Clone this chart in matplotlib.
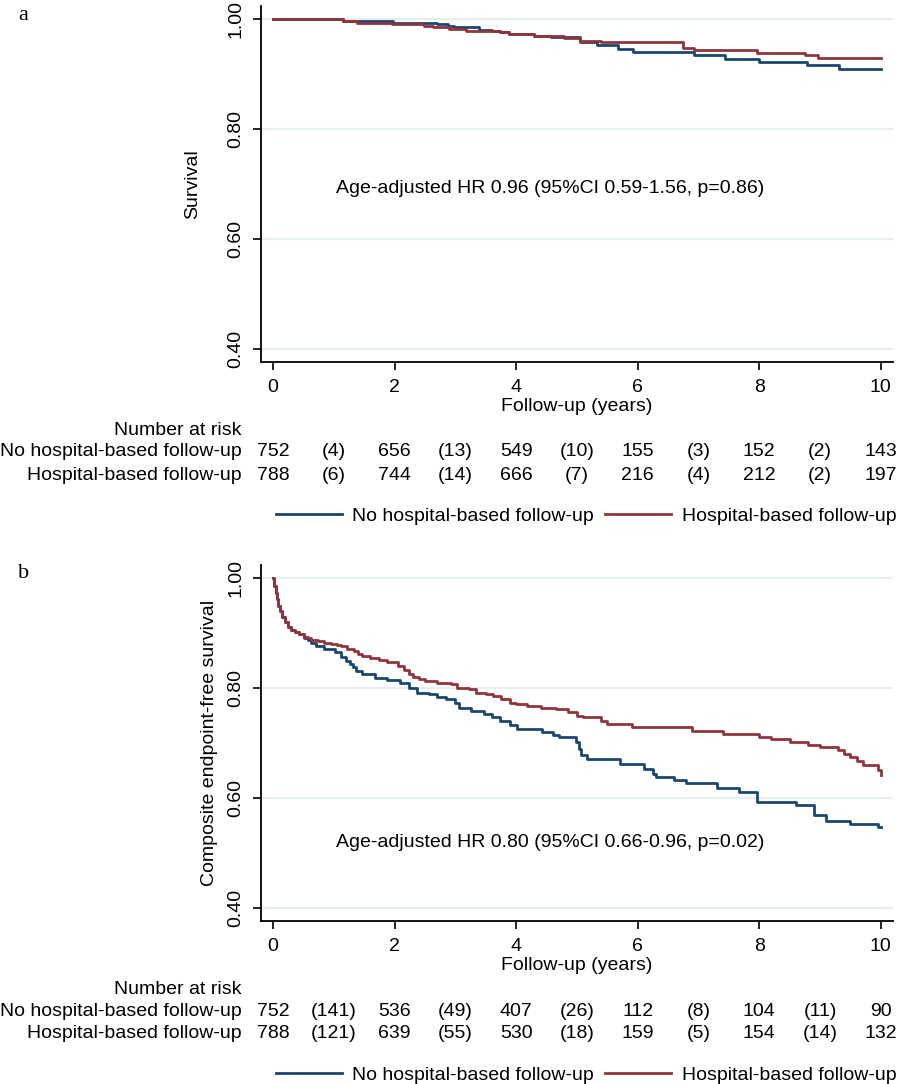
import matplotlib
matplotlib.use('Agg')
import matplotlib.pyplot as plt
from matplotlib.transforms import blended_transform_factory
from matplotlib.lines import Line2D

plt.rcParams['font.family'] = ['Liberation Sans', 'DejaVu Sans']

W, H = 904, 1084
BLUE = '#1a476f'
RED = '#90353b'
GRID = '#e6eef0'

# panel a: overall survival (step points)
a_no_t = [0, 1.15, 1.97, 2.49, 2.70, 2.87, 2.98, 3.39, 3.60, 3.74, 3.88, 4.29, 4.57,
          5.05, 5.33, 5.67, 5.92, 6.92, 7.44, 7.99, 8.79, 9.31, 10.0]
a_no_s = [1.000, 0.997, 0.994, 0.993, 0.991, 0.987, 0.985, 0.981, 0.979, 0.976, 0.973, 0.970, 0.967,
          0.959, 0.953, 0.945, 0.941, 0.935, 0.927, 0.922, 0.916, 0.909, 0.909]
a_hosp_t = [0, 1.15, 1.38, 1.95, 2.49, 2.63, 2.90, 3.18, 3.74, 3.88, 4.29, 4.78, 5.05,
            5.40, 6.75, 6.92, 7.96, 8.75, 8.96, 10.0]
a_hosp_s = [1.000, 0.997, 0.994, 0.991, 0.988, 0.985, 0.982, 0.979, 0.976, 0.973, 0.970, 0.965, 0.961,
            0.958, 0.948, 0.944, 0.939, 0.935, 0.930, 0.930]

# panel b: composite endpoint-free survival
b_no_t = [0, 0.02, 0.04, 0.06, 0.08, 0.11, 0.15, 0.20, 0.25, 0.30, 0.36, 0.43, 0.50, 0.57,
          0.63, 0.70, 0.84, 1.01, 1.12, 1.20, 1.26, 1.31, 1.36, 1.46, 1.67, 1.88, 2.09,
          2.23, 2.37, 2.57, 2.70, 2.85, 2.99, 3.06, 3.25, 3.47, 3.60, 3.74, 3.90, 4.02,
          4.43, 4.60, 4.70, 4.98, 5.03, 5.07, 5.17, 5.70, 6.10, 6.25, 6.30, 6.60, 6.80,
          7.30, 7.66, 7.96, 8.60, 8.90, 9.10, 9.50, 9.96, 10.0]
b_no_s = [1.000, 0.985, 0.974, 0.962, 0.950, 0.940, 0.929, 0.920, 0.911, 0.906, 0.902, 0.898, 0.892, 0.887,
          0.882, 0.876, 0.871, 0.865, 0.856, 0.850, 0.844, 0.838, 0.832, 0.825, 0.819, 0.815, 0.810,
          0.801, 0.792, 0.789, 0.784, 0.780, 0.773, 0.765, 0.759, 0.753, 0.747, 0.741, 0.733, 0.726,
          0.720, 0.715, 0.711, 0.702, 0.690, 0.678, 0.672, 0.663, 0.654, 0.645, 0.639, 0.633, 0.627,
          0.618, 0.612, 0.593, 0.587, 0.570, 0.558, 0.553, 0.547, 0.547]
b_hosp_t = [0, 0.02, 0.04, 0.06, 0.08, 0.11, 0.15, 0.20, 0.25, 0.30, 0.36, 0.43, 0.50, 0.57,
            0.63, 0.73, 0.84, 0.95, 1.05, 1.12, 1.22, 1.33, 1.40, 1.46, 1.60, 1.75, 1.88,
            2.05, 2.15, 2.23, 2.30, 2.40, 2.50, 2.70, 2.92, 3.02, 3.23, 3.34, 3.50, 3.61,
            3.75, 3.89, 4.00, 4.17, 4.40, 4.65, 4.85, 5.00, 5.10, 5.40, 5.50, 5.90, 6.90,
            7.40, 8.00, 8.20, 8.50, 8.80, 9.00, 9.30, 9.40, 9.50, 9.60, 9.70, 9.96, 10.0]
b_hosp_s = [1.000, 0.985, 0.974, 0.962, 0.950, 0.940, 0.929, 0.920, 0.911, 0.906, 0.902, 0.898, 0.894, 0.891,
            0.888, 0.885, 0.882, 0.880, 0.878, 0.876, 0.872, 0.868, 0.863, 0.859, 0.855, 0.852, 0.848,
            0.840, 0.833, 0.826, 0.821, 0.817, 0.813, 0.810, 0.808, 0.801, 0.799, 0.792, 0.789, 0.786,
            0.780, 0.774, 0.771, 0.768, 0.765, 0.762, 0.756, 0.750, 0.747, 0.741, 0.735, 0.729, 0.723,
            0.717, 0.711, 0.708, 0.702, 0.697, 0.693, 0.687, 0.681, 0.675, 0.667, 0.660, 0.652, 0.642]

# number at risk (even years) and censored in between (odd years)
a_no_risk = [752, 656, 549, 155, 152, 143]
a_no_cens = [4, 13, 10, 3, 2]
a_hosp_risk = [788, 744, 666, 216, 212, 197]
a_hosp_cens = [6, 14, 7, 4, 2]
b_no_risk = [752, 536, 407, 112, 104, 90]
b_no_cens = [141, 49, 26, 8, 11]
b_hosp_risk = [788, 639, 530, 159, 154, 132]
b_hosp_cens = [121, 55, 18, 5, 14]

groups = ['No hospital-based follow-up', 'Hospital-based follow-up']
yticks = [0.40, 0.60, 0.80, 1.00]
xticks = [0, 2, 4, 6, 8, 10]

FS = 14


def fx(px):
    return px / W


def fy(px):
    return 1 - px / H


def risk_row(risk, cens):
    out = []
    for i, r in enumerate(risk):
        out.append(str(r))
        if i < len(cens):
            out.append('(%d)' % cens[i])
    return out


def draw_panel(fig, top_px, letter, no_t, no_s, hosp_t, hosp_s, ylabel, ypad, hr_text, hr_y,
               no_risk, no_cens, hosp_risk, hosp_cens):
    ax = fig.add_axes([fx(261), fy(top_px + 356), fx(632), 356 / H])
    ax.set_xlim(-0.2, 10.2)
    ax.set_ylim(0.377, 1.024)
    for y in yticks:
        ax.axhline(y, color=GRID, lw=1.6, zorder=0)
    ax.plot(no_t, no_s, drawstyle='steps-post', color=BLUE, lw=2.0)
    ax.plot(hosp_t, hosp_s, drawstyle='steps-post', color=RED, lw=2.0)
    for s in ['top', 'right']:
        ax.spines[s].set_visible(False)
    for s in ['left', 'bottom']:
        ax.spines[s].set_linewidth(1.3)
    ax.set_xticks(xticks)
    ax.set_xticklabels([str(x) for x in xticks], fontsize=FS)
    ax.set_yticks(yticks)
    ax.set_yticklabels(['%.2f' % y for y in yticks], fontsize=FS, rotation=90, va='center')
    ax.tick_params(axis='both', length=6, width=1.2, pad=6)
    ax.set_ylabel(ylabel, fontsize=FS, labelpad=ypad)
    ax.set_xlabel('Follow-up (years)', fontsize=FS, labelpad=2)
    ax.text(4.56, hr_y, hr_text, fontsize=FS, ha='center', va='center')

    fig.text(fx(18), fy(top_px + 9), letter, family='Liberation Serif', fontsize=16,
             ha='left', va='center')

    # number at risk table
    tr = blended_transform_factory(ax.transData, fig.transFigure)
    base = top_px + 424
    fig.text(fx(242), fy(base), 'Number at risk', fontsize=FS, ha='right', va='center')
    rows = [risk_row(no_risk, no_cens), risk_row(hosp_risk, hosp_cens)]
    for k, (name, row) in enumerate(zip(groups, rows)):
        yy = fy(base + 22 + 23 * k)
        fig.text(fx(242), yy, name, fontsize=FS, ha='right', va='center')
        for t, lab in enumerate(row):
            ax.text(t, yy, lab, transform=tr, fontsize=FS, ha='center', va='center',
                    clip_on=False)

    handles = [Line2D([], [], color=BLUE, lw=2.0), Line2D([], [], color=RED, lw=2.0)]
    fig.legend(handles, groups, loc='center', bbox_to_anchor=(fx(586), fy(base + 86)),
               ncol=2, frameon=False, fontsize=FS, handlelength=3.4, handletextpad=0.55,
               columnspacing=0.55, borderpad=0)
    return ax


fig = plt.figure(figsize=(W / 100, H / 100), dpi=100)

draw_panel(fig, 6, 'a', a_no_t, a_no_s, a_hosp_t, a_hosp_s, 'Survival', 19,
           'Age-adjusted HR 0.96 (95%CI 0.59-1.56, p=0.86)', 0.692,
           a_no_risk, a_no_cens, a_hosp_risk, a_hosp_cens)
draw_panel(fig, 565, 'b', b_no_t, b_no_s, b_hosp_t, b_hosp_s, 'Composite endpoint-free survival', 7,
           'Age-adjusted HR 0.80 (95%CI 0.66-0.96, p=0.02)', 0.519,
           b_no_risk, b_no_cens, b_hosp_risk, b_hosp_cens)

fig.savefig('out.png', dpi=100)
